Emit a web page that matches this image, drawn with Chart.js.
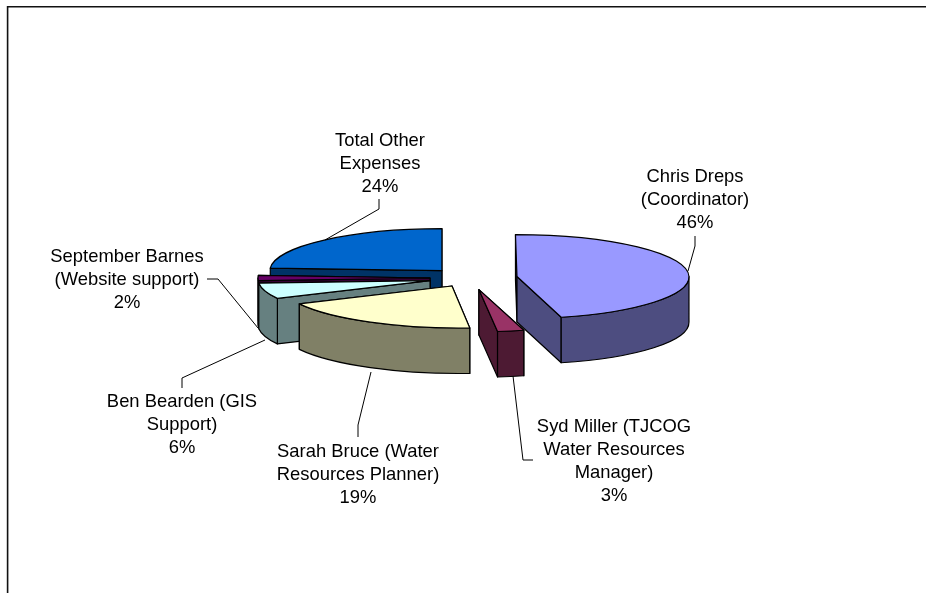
<!DOCTYPE html>
<html>
<head>
<meta charset="utf-8">
<script src="https://cdn.jsdelivr.net/npm/chart.js@4"></script>
<style>
  html, body { margin: 0; padding: 0; background: #fff; }
  canvas { display: block; }
</style>
</head>
<body>
<canvas id="chart" width="926" height="593"></canvas>
<script>
const categories = ['Chris Dreps (Coordinator)', 'Syd Miller (TJCOG Water Resources Manager)', 'Sarah Bruce (Water Resources Planner)', 'Ben Bearden (GIS Support)', 'September Barnes (Website support)', 'Total Other Expenses'];
const shares = [46, 3, 19, 6, 2, 24];

const topColors = ['#9999FF', '#993366', '#FFFFCC', '#CCFFFF', '#660066', '#0066CC'];
const wallColors = ['#4D4D80', '#4D1A33', '#808066', '#668080', '#330033', '#003366'];

// how far each slice is pulled out, and the perspective of each one
const explode = [47.4, 48, 38, 41.7, 40, 41];
const lean = [1.5, 9.7, 7, 7, 0, 0];
const narrow = [1, 0.83, 1, 1, 1, 1];
// back to front
const paintOrder = [5, 4, 3, 2, 0, 1];

const RADIUS = 172;
const SQUASH = 42 / 172;
const DEPTH = 45.5;

// label text lines (the percentage line comes from shares), with leader lines
const labelLines = [
  ['Chris Dreps', '(Coordinator)'],
  ['Syd Miller (TJCOG', 'Water Resources', 'Manager)'],
  ['Sarah Bruce (Water', 'Resources Planner)'],
  ['Ben Bearden (GIS', 'Support)'],
  ['September Barnes', '(Website support)'],
  ['Total Other', 'Expenses']
];
const labelCenter = [[695, 177], [614, 427], [358, 452], [182, 402], [127, 257], [380, 141]];
const leaders = [
  [[695, 236], [695, 246], [688, 271]],
  [[513, 376], [523, 460], [533, 460]],
  [[358, 437], [358, 425], [371, 372]],
  [[182, 388], [182, 378], [265, 340]],
  [[207, 279], [218, 279], [258, 328]],
  [[379, 199], [379, 209], [325, 240]]
];

const LINE_H = 23;

// moves the context into the flattened, pulled out space of a slice
function slicePlace(ctx, arc, i, drop) {
  const half = (arc.startAngle + arc.endAngle) / 2;
  ctx.setTransform(1, 0, 0, 1, 0, 0);
  ctx.translate(arc.x, arc.y + drop);
  ctx.transform(narrow[i], 0, lean[i] / RADIUS, SQUASH, 0, 0);
  ctx.translate(-arc.x + Math.cos(half) * explode[i], -arc.y + Math.sin(half) * explode[i]);
}

function cutWall(ctx, arc, i, angle) {
  const px = arc.x + Math.cos(angle) * arc.outerRadius;
  const py = arc.y + Math.sin(angle) * arc.outerRadius;
  ctx.beginPath();
  slicePlace(ctx, arc, i, 0);
  ctx.moveTo(arc.x, arc.y);
  ctx.lineTo(px, py);
  slicePlace(ctx, arc, i, DEPTH);
  ctx.lineTo(px, py);
  ctx.lineTo(arc.x, arc.y);
  ctx.closePath();
  ctx.setTransform(1, 0, 0, 1, 0, 0);
  ctx.fill();
  ctx.stroke();
}

function roundWall(ctx, arc, i) {
  const a0 = Math.max(arc.startAngle, 0);
  const a1 = Math.min(arc.endAngle, Math.PI);
  if (a1 <= a0) return;
  ctx.beginPath();
  slicePlace(ctx, arc, i, 0);
  ctx.arc(arc.x, arc.y, arc.outerRadius, a0, a1);
  slicePlace(ctx, arc, i, DEPTH);
  ctx.arc(arc.x, arc.y, arc.outerRadius, a1, a0, true);
  ctx.closePath();
  ctx.setTransform(1, 0, 0, 1, 0, 0);
  ctx.fill();
  ctx.stroke();
}

const pie3d = {
  id: 'pie3d',
  beforeDraw(chart) {
    const ctx = chart.ctx;
    ctx.save();
    ctx.strokeStyle = '#111';
    ctx.lineWidth = 1.6;
    ctx.beginPath();
    ctx.moveTo(7.6, 593);
    ctx.lineTo(7.6, 6.8);
    ctx.lineTo(926, 6.8);
    ctx.stroke();
    ctx.restore();
  },
  // slices are painted here, in depth order, with their walls
  beforeDatasetDraw(chart, args) {
    const ctx = chart.ctx;
    const arcs = args.meta.data;
    ctx.save();
    ctx.lineJoin = 'round';
    ctx.lineWidth = 1.2;
    ctx.strokeStyle = '#000';
    paintOrder.forEach(i => {
      const arc = arcs[i];
      // the cut face nearer the viewer goes last
      const cuts = [arc.startAngle, arc.endAngle].sort((a, b) => Math.sin(a) - Math.sin(b));
      ctx.fillStyle = wallColors[i];
      cuts.forEach(a => cutWall(ctx, arc, i, a));
      roundWall(ctx, arc, i);

      ctx.save();
      slicePlace(ctx, arc, i, 0);
      arc.draw(ctx);
      ctx.restore();

      ctx.beginPath();
      slicePlace(ctx, arc, i, 0);
      ctx.moveTo(arc.x, arc.y);
      ctx.arc(arc.x, arc.y, arc.outerRadius, arc.startAngle, arc.endAngle);
      ctx.closePath();
      ctx.setTransform(1, 0, 0, 1, 0, 0);
      ctx.stroke();
    });
    ctx.restore();
    return false;
  },
  afterDraw(chart) {
    const ctx = chart.ctx;
    ctx.save();
    ctx.strokeStyle = '#000';
    ctx.lineWidth = 1;
    leaders.forEach(pts => {
      ctx.beginPath();
      pts.forEach((p, k) => k ? ctx.lineTo(p[0], p[1]) : ctx.moveTo(p[0], p[1]));
      ctx.stroke();
    });
    ctx.fillStyle = '#000';
    ctx.font = '18.4px "Liberation Sans"';
    ctx.textAlign = 'center';
    ctx.textBaseline = 'middle';
    labelLines.forEach((lines, i) => {
      lines.concat(shares[i] + '%').forEach((line, k) => {
        ctx.fillText(line, labelCenter[i][0], labelCenter[i][1] + k * LINE_H);
      });
    });
    ctx.restore();
  }
};

new Chart(document.getElementById('chart'), {
  type: 'pie',
  data: {
    labels: categories,
    datasets: [{
      data: shares,
      backgroundColor: topColors,
      borderWidth: 0
    }]
  },
  options: {
    responsive: false,
    animation: false,
    radius: RADIUS,
    layout: { padding: { left: 14, right: 0, top: 0, bottom: 37 } },
    plugins: { legend: { display: false }, tooltip: { enabled: false } }
  },
  plugins: [pie3d]
});
</script>
</body>
</html>
